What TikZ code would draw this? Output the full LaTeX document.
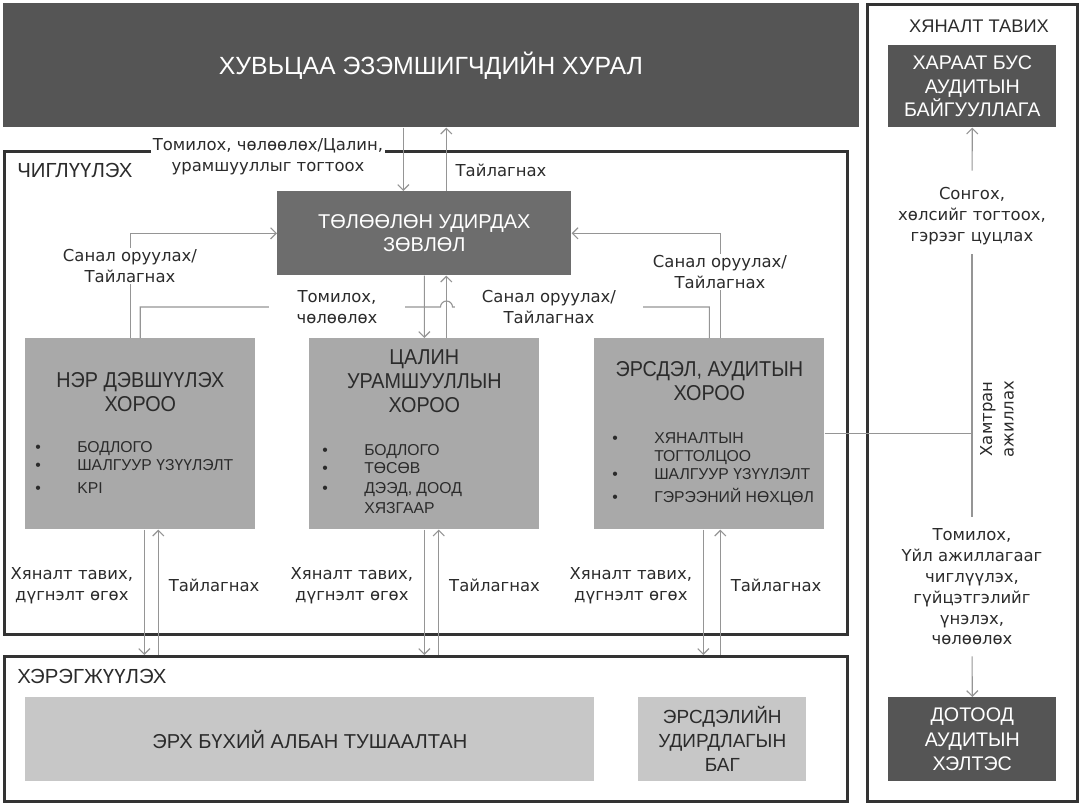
\documentclass[tikz,border=0pt]{standalone}
\usepackage{fontspec}
\setmainfont{Liberation Sans}
\newfontfamily\lblfont{DejaVu Sans}
\newfontfamily\narrowfont[FakeStretch=0.92]{Liberation Sans}
\usetikzlibrary{arrows.meta,positioning,calc}
\definecolor{topgray}{HTML}{555555}
\definecolor{boardgray}{HTML}{6D6D6D}
\definecolor{comgray}{HTML}{A9A9A9}
\definecolor{implgray}{HTML}{C7C7C7}
\definecolor{wire}{HTML}{959595}
\definecolor{rim}{HTML}{333333}
\definecolor{ink}{HTML}{2B2B2B}
\newcommand{\blt}{\makebox[1.05cm][l]{\textbullet}}
\begin{document}
\begin{tikzpicture}[
  x=0.025cm, y=-0.025cm,
  font=\fontsize{11.7}{15.2}\selectfont\lblfont,
  frame/.style={draw=rim, line width=2pt, anchor=north west, inner sep=0},
  box/.style={anchor=north west, inner sep=0, align=center},
  darkbox/.style={box, fill=topgray, text=white},
  combox/.style={box, fill=comgray, minimum width=5.75cm, minimum height=4.775cm},
  implbox/.style={box, fill=implgray, text=ink, minimum height=2.1cm},
  comtitle/.style={align=center, text=ink, inner sep=0, font=\fontsize{15.3}{17}\selectfont\narrowfont},
  itemlist/.style={anchor=base west, inner sep=0, text=ink, font=\fontsize{11.2}{12.8}\selectfont\rmfamily},
  seclbl/.style={text=ink, inner sep=0, font=\fontsize{14.5}{16}\selectfont\rmfamily},
  lbl/.style={align=center, text=ink, inner sep=1pt},
  gap/.style={lbl, fill=white},
  wireline/.style={draw=wire, line width=0.8pt},
  arr/.style={wireline, -{Straight Barb[length=4pt,width=8pt]}},
]
\useasboundingbox (0,0) rectangle (1080,804);
% frames
\node[frame, minimum width=5.25cm, minimum height=19.925cm] (ctrl) at (866,3) {};
\node[frame, minimum width=21.075cm, minimum height=12.075cm] (dir) at (3,150) {};
\node[frame, minimum width=21.075cm, minimum height=3.625cm] (impl) at (3,655) {};
\node[seclbl, anchor=west] (dir-l) at (17,170) {ЧИГЛҮҮЛЭХ};
\node[seclbl, anchor=west] (impl-l) at (17,676) {ХЭРЭГЖҮҮЛЭХ};
\node[seclbl, font=\fontsize{13}{16}\selectfont\rmfamily] (ctrl-l) at (979,26) {ХЯНАЛТ ТАВИХ};
% boxes
\node[darkbox, minimum width=21.375cm, minimum height=3.1cm, font=\fontsize{17.7}{20}\selectfont\rmfamily] (agm) at (3,3) {ХУВЬЦАА ЭЗЭМШИГЧДИЙН ХУРАЛ};
\node[darkbox, fill=boardgray, minimum width=7.35cm, minimum height=2.1cm, font=\fontsize{14.2}{16.3}\selectfont\rmfamily] (board) at (277,191) {ТӨЛӨӨЛӨН УДИРДАХ\\ЗӨВЛӨЛ};
\node[combox] (nom) at (25,338) {};
\node[combox] (pay) at (309,338) {};
\node[combox] (risk) at (594,338) {};
\node[comtitle] (nom-t) at ([yshift=-1.35cm]nom.north) {НЭР ДЭВШҮҮЛЭХ\\ХОРОО};
\node[comtitle] (pay-t) at ([yshift=-1.075cm]pay.north) {ЦАЛИН\\УРАМШУУЛЛЫН\\ХОРОО};
\node[comtitle] (risk-t) at ([yshift=-1.075cm]risk.north) {ЭРСДЭЛ, АУДИТЫН\\ХОРОО};
\node[itemlist] (nom-l) at ([xshift=0.25cm,yshift=-2.85cm]nom.north west) {\begin{tabular}[t]{@{}l@{}}\blt БОДЛОГО\\ \blt ШАЛГУУР ҮЗҮҮЛЭЛТ\\[4pt] \blt KPI\end{tabular}};
\node[itemlist] (pay-l) at ([xshift=0.325cm,yshift=-2.925cm]pay.north west) {\begin{tabular}[t]{@{}l@{}}\blt БОДЛОГО\\ \blt ТӨСӨВ\\[1.5pt] \blt ДЭЭД, ДООД\\[1.5pt] \hspace*{1.05cm}ХЯЗГААР\end{tabular}};
\node[itemlist] (risk-l) at ([xshift=0.45cm,yshift=-2.625cm]risk.north west) {\begin{tabular}[t]{@{}l@{}}\blt ХЯНАЛТЫН\\ \hspace*{1.05cm}ТОГТОЛЦОО\\ \blt ШАЛГУУР ҮЗҮҮЛЭЛТ\\[3pt] \blt ГЭРЭЭНИЙ НӨХЦӨЛ\end{tabular}};
\node[implbox, minimum width=14.225cm, font=\fontsize{14.3}{17}\selectfont\rmfamily] (staff) at (25,697) {ЭРХ БҮХИЙ АЛБАН ТУШААЛТАН};
\node[implbox, minimum width=4.2cm, font=\fontsize{13.5}{17}\selectfont\rmfamily] (riskteam) at (638,697) {ЭРСДЭЛИЙН\\УДИРДЛАГЫН\\БАГ};
\node[darkbox, minimum width=4.2cm, minimum height=2.05cm, font=\fontsize{14}{16.7}\selectfont\rmfamily] (ext) at (888,45) {ХАРААТ БУС\\АУДИТЫН\\БАЙГУУЛЛАГА};
\node[darkbox, minimum width=4.2cm, minimum height=2.1cm, font=\fontsize{14}{17.4}\selectfont\rmfamily] (intl) at (888,697) {ДОТООД\\АУДИТЫН\\ХЭЛТЭС};
% shareholders <-> board
\coordinate (b-dn) at ([xshift=-0.525cm]board.north);
\coordinate (b-up) at ([xshift=0.55cm]board.north);
\draw[arr] (b-dn |- agm.south) -- (b-dn);
\draw[arr] (b-up) -- (b-up |- agm.south);
\node[gap] (appoint-top) at (268,157) {Томилох, чөлөөлөх/Цалин,\\урамшууллыг тогтоох};
\node[lbl] (rep-top) at (501,170) {Тайлагнах};
% committees -> board
\coordinate (n-s) at ([xshift=-0.25cm]nom.north);
\coordinate (r-s) at ([xshift=0.275cm]risk.north);
\draw[arr] (n-s) |- (board.west);
\draw[arr] (r-s) |- (board.east);
\node[gap] (nom-prop) at (130,266) {Санал оруулах/\\Тайлагнах};
\node[gap] (risk-prop) at (720,272) {Санал оруулах/\\Тайлагнах};
\draw[arr] (board.south) -- (pay.north);
\coordinate (p-up) at ([xshift=0.55cm]pay.north);
\draw[arr] (p-up) -- (p-up |- board.south);
\coordinate (hop) at (440.5,307);
\draw[wireline] (nom.north) |- (hop) arc[start angle=180, end angle=0, radius=0.15cm] -| (risk.north);
\node[gap, minimum width=3.4cm] (appoint-mid) at (337,307) {Томилох,\\чөлөөлөх};
\node[gap, minimum width=4.7cm] (pay-prop) at (549,307) {Санал оруулах/\\Тайлагнах};
% committees <-> management
\foreach \c/\xd/\xu in {nom/0.1/0.45, pay/0/0.36, risk/-0.15/0.275} {
  \coordinate (\c-dn) at ([xshift=\xd cm]\c.south);
  \coordinate (\c-up) at ([xshift=\xu cm]\c.south);
  \draw[arr] (\c-dn) -- (\c-dn |- impl.north);
  \draw[arr] (\c-up |- impl.north) -- (\c-up);
  \node[lbl, anchor=east] (\c-watch) at ([xshift=-0.24cm,yshift=-1.4cm]\c-dn) {Хяналт тавих,\\дүгнэлт өгөх};
  \node[lbl, anchor=west] (\c-rep) at ([xshift=0.22cm,yshift=-1.4cm]\c-up) {Тайлагнах};
}
% audit column
\node[lbl] (pick) at (972,216) {Сонгох,\\хөлсийг тогтоох,\\гэрээг цуцлах};
\node[lbl, font=\fontsize{11.7}{14.8}\selectfont\lblfont] (steer) at (972,587) {Томилох,\\Үйл ажиллагааг\\чиглүүлэх,\\гүйцэтгэлийг\\үнэлэх,\\чөлөөлөх};
\draw[arr, shorten <=0.36cm] (pick.north) -- (ext.south);
\draw[wireline, shorten <=0.19cm, shorten >=0.26cm] (pick.south) -- (steer.north);
\draw[arr, shorten <=0.24cm] (steer.south) -- (intl.north);
\draw[wireline] (risk.east) -- (risk.east -| pick.south);
\node[lbl, rotate=90] (coop) at (997,419) {Хамтран\\ажиллах};
\end{tikzpicture}
\end{document}
